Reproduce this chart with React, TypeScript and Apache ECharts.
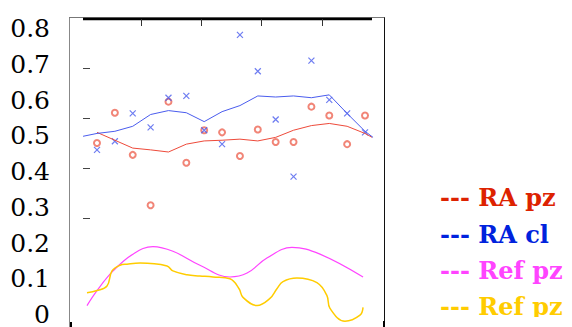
import React, { useEffect, useRef } from "react";
import * as echarts from "echarts";

// y tick labels
const yTicks = [0, 0.1, 0.2, 0.3, 0.4, 0.5, 0.6, 0.7, 0.8];

// sample index (x) for the scatter series
const sampleIdx = [0, 1, 2, 3, 4, 5, 6, 7, 8, 9, 10, 11, 12, 13, 14, 15];

// RA pz scatter values (red circles)
const raPzPoints = [0.48, 0.565, 0.447, 0.306, 0.596, 0.425, 0.516, 0.51, 0.444, 0.518, 0.483, 0.483, 0.582, 0.557, 0.477, 0.557];
// RA cl scatter values (blue crosses)
const raClPoints = [0.461, 0.485, 0.563, 0.524, 0.607, 0.612, 0.516, 0.477, 0.783, 0.681, 0.546, 0.386, 0.711, 0.601, 0.563, 0.51];

// RA pz trend line
const raPzLineX = [0, 1, 2, 3, 4, 5, 6, 7, 8, 9, 10, 11, 12, 13, 14, 15, 15.4];
const raPzLineY = [0.51, 0.488, 0.466, 0.461, 0.455, 0.477, 0.486, 0.488, 0.491, 0.486, 0.496, 0.516, 0.529, 0.535, 0.527, 0.507, 0.496];

// RA cl trend line
const raClLineX = [-0.78, 0, 1, 2, 3, 4, 5, 6, 7, 8, 9, 10, 11, 12, 13, 14, 15, 15.45];
const raClLineY = [0.499, 0.507, 0.513, 0.527, 0.56, 0.571, 0.565, 0.54, 0.568, 0.585, 0.612, 0.609, 0.612, 0.607, 0.615, 0.563, 0.513, 0.496];

// Ref pz (magenta) curve
const refPzAX = [-0.56, 0, 0.9, 2.01, 3.13, 4.25, 5.76, 7.44, 8.4, 9.51, 10.91, 12.48, 14.89];
const refPzAY = [0.025, 0.067, 0.122, 0.169, 0.19, 0.177, 0.138, 0.105, 0.116, 0.158, 0.188, 0.169, 0.105];

// Ref pz (yellow) curve
const refPzBX = [-0.56, 0, 0.56, 0.84, 1.29, 1.68, 2.41, 3.92, 4.25, 5.04, 5.76, 6.49, 7.44, 7.95, 8.17, 8.96, 9.68, 10.07, 10.41, 11.19, 12.31, 12.87, 13.04, 13.88, 14.72, 14.89];
const refPzBY = [0.061, 0.067, 0.08, 0.122, 0.138, 0.141, 0.144, 0.136, 0.122, 0.111, 0.108, 0.105, 0.1, 0.072, 0.048, 0.025, 0.045, 0.072, 0.092, 0.102, 0.089, 0.053, 0.017, -0.019, -0.002, 0.02];

// legend entries
const legendNames = ["RA pz", "RA cl", "Ref pz", "Ref pz"];
const legendColors = ["#dd2200", "#0022dd", "#ff44ff", "#ffcc00"];

const zip = (xs: number[], ys: number[]) => xs.map((x, i) => [x, ys[i]]);

export default function App() {
  const ref = useRef<HTMLDivElement>(null);
  useEffect(() => {
    if (!ref.current) return;
    const chart = echarts.init(ref.current, undefined, { renderer: "svg" });
    const serif = "DejaVu Serif";
    const legendRowY = [197, 234, 270, 306.5];
    const graphic: any[] = [
      // frame
      { type: "line", shape: { x1: 69.5, y1: 17.5, x2: 69.5, y2: 327 }, style: { stroke: "#888", lineWidth: 1 } },
      { type: "line", shape: { x1: 69, y1: 17.5, x2: 385, y2: 17.5 }, style: { stroke: "#777", lineWidth: 1 } },
      { type: "line", shape: { x1: 83, y1: 19, x2: 372, y2: 19 }, style: { stroke: "#000", lineWidth: 2.5 } },
      { type: "line", shape: { x1: 384.5, y1: 17.5, x2: 384.5, y2: 327 }, style: { stroke: "#111", lineWidth: 1 } },
      { type: "rect", shape: { x: 70, y: 322, width: 2, height: 5 }, style: { fill: "#000" } },
      { type: "rect", shape: { x: 383, y: 321, width: 2, height: 6 }, style: { fill: "#000" } },
    ];
    [141, 201, 261, 322].forEach((x) =>
      graphic.push({ type: "line", shape: { x1: x + 0.5, y1: 19, x2: x + 0.5, y2: 26 }, style: { stroke: "#333", lineWidth: 1 } })
    );
    [68, 118, 168, 218].forEach((y) =>
      graphic.push({ type: "line", shape: { x1: 83, y1: y + 0.5, x2: 90, y2: y + 0.5 }, style: { stroke: "#444", lineWidth: 1 } })
    );
    legendNames.forEach((n, i) =>
      graphic.push({
        type: "text",
        x: 440,
        y: legendRowY[i],
        style: {
          text: "--- " + n,
          fontFamily: serif,
          fontSize: 24,
          fontWeight: "bold",
          fill: legendColors[i],
          verticalAlign: "middle",
          align: "left",
        },
      })
    );
    graphic.push({ type: "rect", shape: { x: 430, y: 317, width: 142, height: 10 }, style: { fill: "#fff" }, z: 100 });

    chart.setOption({
      animation: false,
      backgroundColor: "#fff",
      grid: { left: 69, right: 187, top: 28.8, bottom: 7.8 },
      xAxis: {
        type: "value",
        min: -1.567,
        max: 16.119,
        show: false,
      },
      yAxis: {
        type: "value",
        min: yTicks[0],
        max: yTicks[yTicks.length - 1],
        interval: 0.1,
        axisLine: { show: false },
        axisTick: { show: false },
        splitLine: { show: false },
        axisLabel: { fontFamily: serif, fontSize: 25, color: "#000", margin: 19 },
      },
      graphic,
      series: [
        {
          type: "line",
          data: zip(raPzLineX, raPzLineY),
          showSymbol: false,
          clip: false,
          lineStyle: { color: "#ee4a3a", width: 1 },
        },
        {
          type: "line",
          data: zip(raClLineX, raClLineY),
          showSymbol: false,
          clip: false,
          lineStyle: { color: "#4a5cee", width: 1 },
        },
        {
          type: "line",
          data: zip(refPzAX, refPzAY),
          showSymbol: false,
          smooth: 0.4,
          clip: false,
          lineStyle: { color: "#ff44ff", width: 1.2 },
        },
        {
          type: "line",
          data: zip(refPzBX, refPzBY),
          showSymbol: false,
          smooth: 0.4,
          clip: false,
          lineStyle: { color: "#ffcc00", width: 1.5 },
        },
        {
          type: "scatter",
          data: zip(sampleIdx, raPzPoints),
          symbol: "emptyCircle",
          symbolSize: 6,
          clip: false,
          itemStyle: { color: "#ee6655", borderColor: "#ee6655", borderWidth: 1.3 },
        },
        {
          type: "scatter",
          data: zip(sampleIdx, raClPoints),
          symbol: "path://M0,0L10,10M10,0L0,10",
          symbolSize: 6,
          clip: false,
          itemStyle: { color: "transparent", borderColor: "#4a5cee", borderWidth: 1.2 },
        },
      ],
    });
    return () => chart.dispose();
  }, []);
  return <div ref={ref} style={{ position: "fixed", left: 0, top: 0, width: 572, height: 327 }} />;
}
